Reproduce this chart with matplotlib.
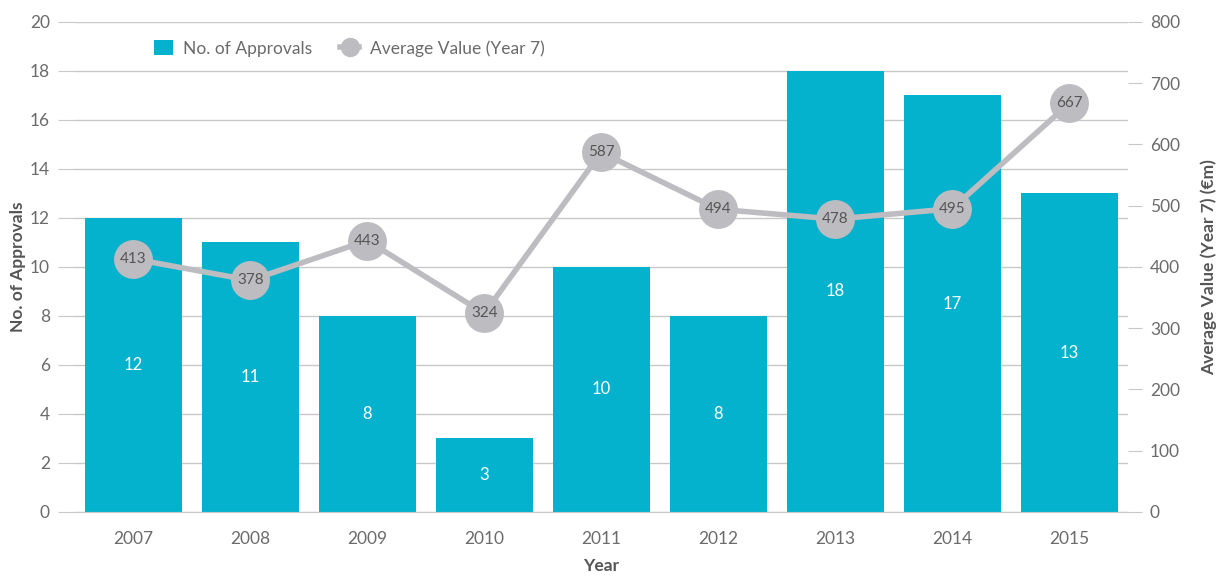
import matplotlib.pyplot as plt
import numpy as np

plt.rcParams['font.family'] = ['Lato', 'DejaVu Sans']

years = ["2007", "2008", "2009", "2010", "2011", "2012", "2013", "2014", "2015"]
approvals = [12, 11, 8, 3, 10, 8, 18, 17, 13]
avg_value = [413, 378, 443, 324, 587, 494, 478, 495, 667]

BAR = "#04B2CD"
LINE = "#BDBCC0"
GRID = "#C8C8C8"
TXT = "#6B6B6B"

fig = plt.figure(figsize=(12.27, 5.77), dpi=100)
ax = fig.add_axes([0.061, 0.113, 0.858, 0.849])
ax2 = ax.twinx()

x = np.arange(len(years))
bars = ax.bar(x, approvals, width=0.83, color=BAR, zorder=2, label="No. of Approvals")
for xi, v in zip(x, approvals):
    ax.text(xi, v / 2, str(v), ha="center", va="center", color="white", fontsize=12, zorder=3)

ax.set_xlim(-0.5, len(years) - 0.5)
ax.set_ylim(0, 20)
ax.set_yticks(range(0, 21, 2))
ax.set_xticks(x)
ax.set_xticklabels(years)
ax.grid(axis="y", color=GRID, linewidth=1, zorder=0)
ax.tick_params(axis="y", length=12, color=GRID, labelcolor=TXT, labelsize=12.5, pad=6)
ax.tick_params(axis="x", length=0, labelcolor=TXT, labelsize=12.5, pad=14)
for s in ["top", "right", "left"]:
    ax.spines[s].set_visible(False)
ax.spines["bottom"].set_color(GRID)
ax.set_ylabel("No. of Approvals", color="#555555", fontsize=12.5, fontweight="bold", labelpad=3)
ax.set_xlabel("Year", color="#555555", fontsize=12.5, fontweight="bold", labelpad=8)

ax2.plot(x, avg_value, color=LINE, linewidth=4, marker="o", markersize=28,
         markerfacecolor=LINE, markeredgewidth=0,
         zorder=4, label="Average Value (Year 7)")
for xi, v in zip(x, avg_value):
    ax2.text(xi, v, str(v), ha="center", va="center", color="#555555", fontsize=11, zorder=5)
ax2.set_ylim(0, 800)
ax2.set_yticks(range(0, 801, 100))
ax2.tick_params(axis="y", length=10, color=GRID, labelcolor=TXT, labelsize=12.5, pad=6)
for s in ["top", "right", "left", "bottom"]:
    ax2.spines[s].set_visible(False)
ax2.set_ylabel("Average Value (Year 7) (€m)", color="#555555", fontsize=12.5,
               fontweight="bold", labelpad=15)

handles = [bars, ax2.lines[0]]
leg = ax.legend(handles, [h.get_label() for h in handles], loc="upper left",
                bbox_to_anchor=(0.06, 0.995), ncol=2, frameon=False, fontsize=12.5,
                handlelength=1.1, handleheight=0.9, handletextpad=0.6,
                columnspacing=1.6, markerscale=0.5)
for t in leg.get_texts():
    t.set_color(TXT)
leg.set_zorder(10)

fig.savefig("out.png", dpi=100)
